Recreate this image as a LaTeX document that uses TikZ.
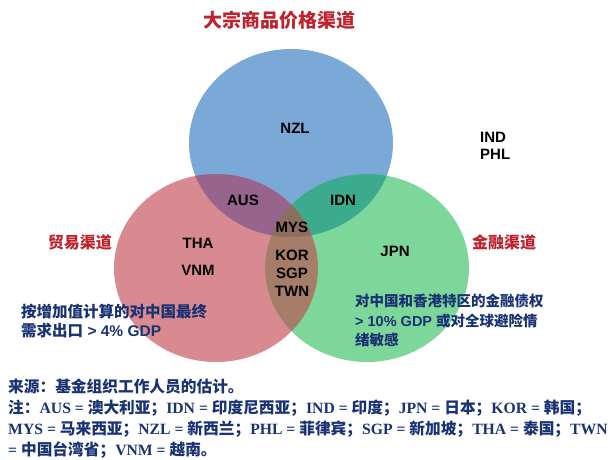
\documentclass[tikz,border=0pt]{standalone}
\usepackage{fontspec}
\setmainfont{Liberation Sans}
\newfontfamily\cjk{Noto Sans CJK SC}
\newfontfamily\tms{Liberation Serif}
\usetikzlibrary{positioning}
\newcommand\zh[1]{{\cjk #1}}
\definecolor{tradered}{RGB}{216,138,144}
\definecolor{commblue}{RGB}{122,169,216}
\definecolor{fingreen}{RGB}{125,214,154}
\definecolor{blueandred}{RGB}{150,100,140}
\definecolor{blueandgreen}{RGB}{60,170,140}
\definecolor{redandgreen}{RGB}{165,125,105}
\definecolor{allthree}{RGB}{140,110,95}
\definecolor{headred}{RGB}{190,35,45}
\definecolor{navy}{RGB}{25,50,115}
\tikzset{
  cty/.style   = { font=\bfseries\fontsize{15}{15}\selectfont, inner sep=1pt },
  chan/.style  = { font=\cjk\bfseries\fontsize{16}{16}\selectfont, text=headred },
  head/.style  = { font=\cjk\bfseries\fontsize{19}{19}\selectfont, text=headred },
  crit/.style  = { font=\bfseries\fontsize{14.5}{19.5}\selectfont, text=navy,
                   align=left, anchor=north west, inner sep=0pt },
  source/.style= { font=\bfseries\fontsize{15.7}{21}\selectfont, text=navy,
                   align=left, anchor=north west, inner sep=0pt },
}
\begin{document}
\begin{tikzpicture}[
  x=1pt,y=-1pt,
  x radius=102pt,y radius=94pt,
  node distance=5pt
]
  \useasboundingbox (0,0) rectangle (614,460);

  \coordinate (cb) at (291,143);
  \coordinate (cr) at (216,268);
  \coordinate (cg) at (367,268);

  \fill [commblue] (cb) ellipse;
  \fill [tradered] (cr) ellipse;
  \fill [fingreen] (cg) ellipse;
  \begin{scope}
    \clip (cb) ellipse;
    \fill [blueandred]   (cr) ellipse;
    \fill [blueandgreen] (cg) ellipse;
  \end{scope}
  \begin{scope}
    \clip (cr) ellipse;
    \fill [redandgreen] (cg) ellipse;
    \clip (cg) ellipse;
    \fill [allthree] (cb) ellipse;
  \end{scope}

  \node (title) [head] at (279,20) {大宗商品价格渠道};
  \node (trade) [chan] at (80,242) {贸易渠道};
  \node (fin)   [chan] at (504,242) {金融渠道};

  \node (nzl) [cty] at (295,128) {NZL};
  \node (aus) [cty] at (243,200) {AUS};
  \node (idn) [cty] at (343,200) {IDN};
  \node (mys) [cty] at (292,227) {MYS};
  \node (kor) [cty] at (292,255) {KOR};
  \node (sgp) [cty,below=of kor] {SGP};
  \node (twn) [cty,below=of sgp] {TWN};
  \node (tha) [cty] at (198,243) {THA};
  \node (vnm) [cty] at (198,270) {VNM};
  \node (jpn) [cty] at (395,251) {JPN};
  \node (ind) [cty,anchor=west] at (479,137) {IND};
  \node (phl) [cty,below=5pt of ind.south west,anchor=north west] {PHL};

  \node (tradecrit) [crit,font=\bfseries\fontsize{15.5}{19}\selectfont] at (21,304)
    {\zh{按增加值计算的对中国最终}\\\zh{需求出口} > 4\% GDP};
  \node (fincrit) [crit] at (355,294)
    {\zh{对中国和香港特区的金融债权}\\> 10\% GDP \zh{或对全球避险情}\\\zh{绪敏感}};

  \node (src) [source] at (8,379)
    {\zh{来源：基金组织工作人员的估计。}\\
     \zh{注：}{\tms AUS = }\zh{澳大利亚；}{\tms IDN = }\zh{印度尼西亚；}{\tms IND = }\zh{印度；}{\tms JPN = }\zh{日本；}{\tms KOR = }\zh{韩国；}\\
     {\tms MYS = }\zh{马来西亚；}{\tms NZL = }\zh{新西兰；}{\tms PHL = }\zh{菲律宾；}{\tms SGP = }\zh{新加坡；}{\tms THA = }\zh{泰国；}{\tms TWN}\\
     {\tms = }\zh{中国台湾省；}{\tms VNM = }\zh{越南。}};
\end{tikzpicture}
\end{document}
